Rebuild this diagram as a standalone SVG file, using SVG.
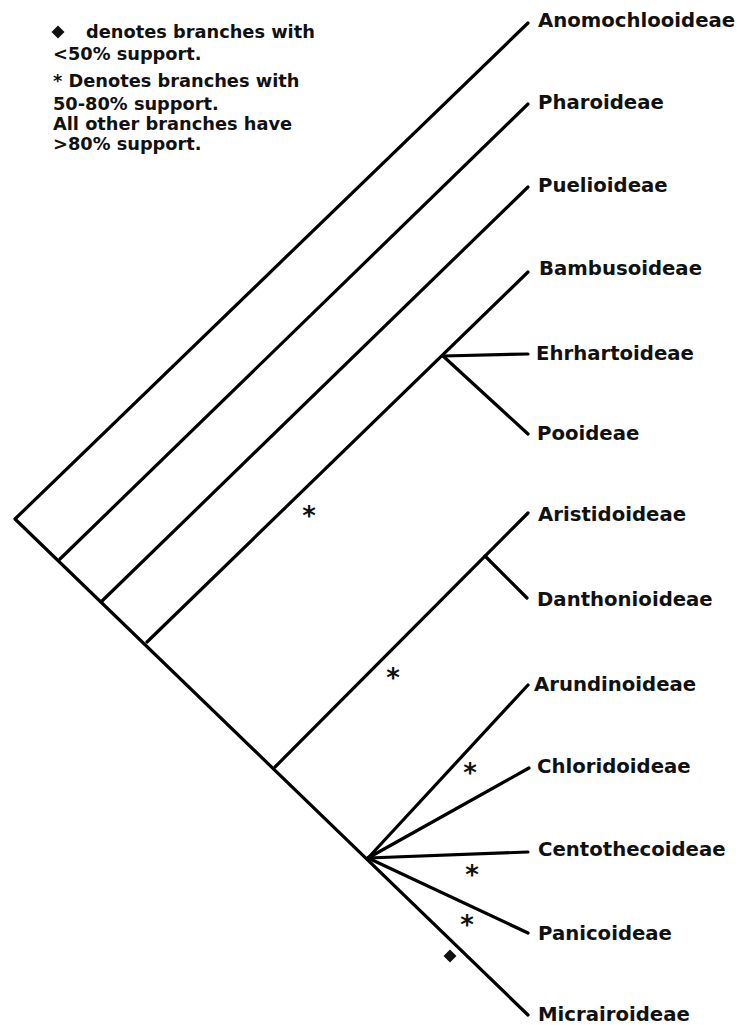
<svg xmlns="http://www.w3.org/2000/svg" width="740" height="1025" viewBox="0 0 740 1025">
<style>
.br{stroke:#000;stroke-width:3.2;fill:none;stroke-linecap:round;stroke-linejoin:round}
.lb{font-family:"DejaVu Sans","Verdana",sans-serif;font-weight:bold;font-size:19.7px;fill:#111}
.lg{font-family:"DejaVu Sans","Verdana",sans-serif;font-weight:bold;font-size:17.8px;fill:#111}
.st{font-family:"DejaVu Sans",sans-serif;font-weight:bold;font-size:26px;fill:#111;text-anchor:middle}
</style>
<defs>
<polygon id="dia" points="0,-6.5 6.5,0 0,6.5 -6.5,0" fill="#111"/>
</defs>
<rect width="740" height="1025" fill="#fff"/>
<g id="legend">
<use href="#dia" x="58" y="32"/>
<text class="lg" x="86" y="38">denotes branches with</text>
<text class="lg" x="53" y="60">&lt;50% support.</text>
<text class="lg" x="53" y="87">* Denotes branches with</text>
<text class="lg" x="53" y="110">50-80% support.</text>
<text class="lg" x="53" y="130">All other branches have</text>
<text class="lg" x="53" y="150">&gt;80% support.</text>
</g>
<g id="connectors">
<path class="br" d="M528,23 L15,519 L528,1015"/>
<path class="br" d="M60,559 L528,104"/>
<path class="br" d="M102,601 L528,187"/>
<path class="br" d="M147,642 L528,272"/>
<path class="br" d="M443,356 L528,354"/>
<path class="br" d="M443,356 L528,434"/>
<path class="br" d="M275,767 L528,513"/>
<path class="br" d="M485,556 L527,598"/>
<path class="br" d="M368,858 L528,685"/>
<path class="br" d="M368,858 L529,768"/>
<path class="br" d="M368,858 L528,852"/>
<path class="br" d="M368,858 L528,933"/>
</g>
<g id="support">
<text class="st" x="309" y="525">*</text>
<text class="st" x="393" y="687">*</text>
<text class="st" x="470" y="782">*</text>
<text class="st" x="472" y="884">*</text>
<text class="st" x="467" y="934">*</text>
<use href="#dia" x="450" y="956"/>
</g>
<g id="n-anomochlooideae"><text class="lb" x="538" y="27">Anomochlooideae</text></g>
<g id="n-pharoideae"><text class="lb" x="538" y="109">Pharoideae</text></g>
<g id="n-puelioideae"><text class="lb" x="538" y="192">Puelioideae</text></g>
<g id="n-bambusoideae"><text class="lb" x="539" y="275">Bambusoideae</text></g>
<g id="n-ehrhartoideae"><text class="lb" x="536" y="360">Ehrhartoideae</text></g>
<g id="n-pooideae"><text class="lb" x="537" y="440">Pooideae</text></g>
<g id="n-aristidoideae"><text class="lb" x="538" y="521">Aristidoideae</text></g>
<g id="n-danthonioideae"><text class="lb" x="537" y="606">Danthonioideae</text></g>
<g id="n-arundinoideae"><text class="lb" x="534" y="691">Arundinoideae</text></g>
<g id="n-chloridoideae"><text class="lb" x="537" y="773">Chloridoideae</text></g>
<g id="n-centothecoideae"><text class="lb" x="538" y="856">Centothecoideae</text></g>
<g id="n-panicoideae"><text class="lb" x="538" y="940">Panicoideae</text></g>
<g id="n-micrairoideae"><text class="lb" x="538" y="1021">Micrairoideae</text></g>
</svg>
